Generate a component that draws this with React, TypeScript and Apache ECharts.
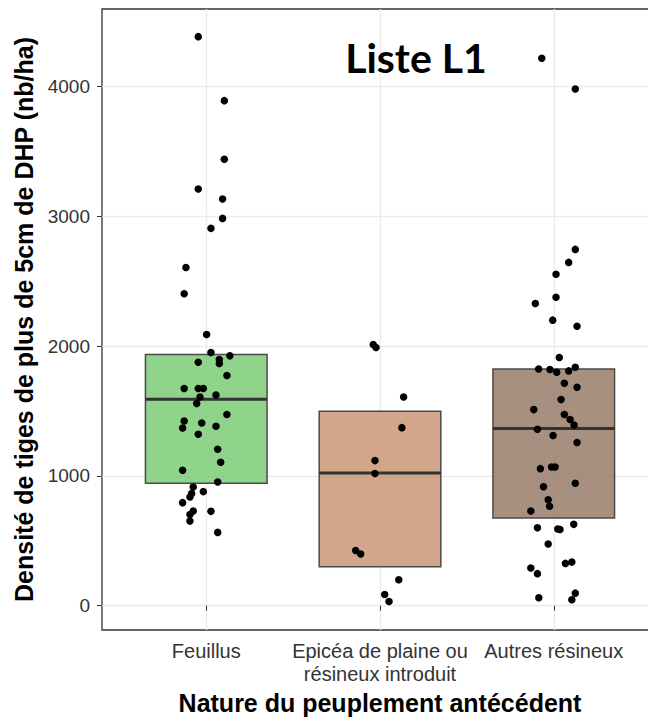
import React, { useEffect, useRef } from "react";
import * as echarts from "echarts";

// ---------- data ----------
const categories = ["Feuillus", "Epicéa de plaine ou\nrésineux introduit", "Autres résineux"];
const yTicks = [0, 1000, 2000, 3000, 4000];

// box statistics: [Q1, median, Q3]
const boxQ1 = [943, 301, 675];
const boxMedian = [1591, 1022, 1365];
const boxQ3 = [1935, 1498, 1824];

// jittered points (x position on the category scale, value)
const feuillusX = [0.954, 1.104, 1.104, 0.954, 1.094, 1.094, 1.027, 0.883, 0.873, 1.002, 1.027, 1.136, 1.075, 1.075, 0.954, 1.119, 0.873, 0.954, 0.983, 1.056, 0.964, 0.945, 1.119, 0.873, 0.864, 0.974, 1.056, 0.954, 1.066, 1.083, 0.864, 1.066, 0.925, 0.983, 0.916, 0.906, 0.864, 0.925, 1.027, 0.906, 0.906, 1.066];
const feuillusY = [4384, 3891, 3439, 3210, 3133, 2984, 2907, 2606, 2403, 2089, 1951, 1925, 1897, 1866, 1876, 1773, 1673, 1673, 1673, 1624, 1608, 1557, 1473, 1423, 1369, 1408, 1382, 1321, 1205, 1105, 1043, 953, 914, 879, 864, 837, 794, 729, 727, 702, 652, 565];

const epiceaX = [1.961, 1.977, 2.136, 2.126, 1.971, 1.971, 1.86, 1.889, 2.108, 2.027, 2.052];
const epiceaY = [2012, 1989, 1608, 1372, 1118, 1018, 426, 398, 200, 87, 33];

const autresX = [2.931, 3.124, 3.124, 3.086, 3.013, 3.013, 2.894, 2.994, 3.134, 3.032, 2.913, 2.978, 3.017, 3.086, 3.124, 3.061, 3.134, 3.042, 2.885, 3.061, 3.094, 3.117, 2.906, 2.996, 3.134, 2.923, 2.987, 3.008, 3.124, 2.941, 2.968, 2.976, 2.868, 2.906, 3.023, 3.036, 3.115, 2.968, 2.868, 2.906, 3.067, 3.104, 2.914, 3.124, 3.104];
const autresY = [4217, 3981, 2745, 2645, 2554, 2377, 2328, 2200, 2153, 1912, 1824, 1820, 1799, 1809, 1837, 1714, 1683, 1588, 1511, 1473, 1434, 1392, 1359, 1311, 1257, 1056, 1069, 1069, 943, 917, 817, 766, 729, 601, 591, 587, 627, 475, 290, 247, 326, 336, 62, 97, 46];

// ---------- styles ----------
const boxFills = ["rgba(115,201,109,0.8)", "rgba(199,144,109,0.8)", "rgba(146,116,96,0.8)"];
const BOX_HALF_WIDTH = 0.35;

export default function App() {
  const ref = useRef<HTMLDivElement>(null);

  useEffect(() => {
    if (!ref.current) return;
    const chart = echarts.init(ref.current, undefined, { renderer: "svg" });

    const boxData = categories.map((_, i) => [i + 1, boxQ1[i], boxMedian[i], boxQ3[i]]);
    const points: number[][] = [];
    feuillusX.forEach((x, i) => points.push([x, feuillusY[i]]));
    epiceaX.forEach((x, i) => points.push([x, epiceaY[i]]));
    autresX.forEach((x, i) => points.push([x, autresY[i]]));

    const catValues = categories.map((_, i) => i + 1);

    chart.setOption({
      animation: false,
      grid: {
        left: 102,
        top: 9,
        width: 556,
        height: 621,
        show: true,
        borderColor: "#333",
        borderWidth: 1.3,
        backgroundColor: "#fff",
        outerBoundsMode: "none",
        containLabel: false,
      },
      xAxis: {
        type: "value",
        min: 0.4,
        max: 3.6,
        axisLine: { show: false },
        axisTick: {
          show: true,
          customValues: catValues,
          length: 5,
          lineStyle: { color: "#333", width: 1 },
        },
        axisLabel: {
          customValues: catValues,
          formatter: (v: number) => categories[Math.round(v) - 1] ?? "",
          fontFamily: "Liberation Sans",
          fontSize: 20,
          lineHeight: 23,
          color: "#333",
          margin: 9,
        },
        splitLine: { show: true, lineStyle: { color: "#ebebeb", width: 1.3 } },
        name: "Nature du peuplement antécédent",
        nameLocation: "middle",
        nameGap: 60,
        nameTextStyle: {
          fontFamily: "Liberation Sans",
          fontWeight: "bold",
          fontSize: 25,
          color: "#000",
        },
      },
      yAxis: {
        type: "value",
        min: -187,
        max: 4597,
        axisLine: { show: false },
        axisTick: {
          show: true,
          customValues: yTicks,
          length: 5,
          lineStyle: { color: "#333", width: 1 },
        },
        axisLabel: {
          customValues: yTicks,
          formatter: (v: number) => String(v),
          fontFamily: "Liberation Sans",
          fontSize: 19,
          color: "#333",
          margin: 12,
        },
        splitLine: { show: true, lineStyle: { color: "#ebebeb", width: 1.3 } },
        name: "Densité de tiges de plus de 5cm de DHP (nb/ha)",
        nameLocation: "middle",
        nameGap: 62,
        nameTextStyle: {
          fontFamily: "Liberation Sans",
          fontWeight: "bold",
          fontSize: 25,
          color: "#000",
        },
      },
      series: [
        {
          type: "custom",
          z: 2,
          data: boxData,
          encode: { x: 0, y: [1, 2, 3] },
          renderItem: (params: any, api: any) => {
            const x = api.value(0);
            const q1 = api.value(1);
            const med = api.value(2);
            const q3 = api.value(3);
            const tl = api.coord([x - BOX_HALF_WIDTH, q3]);
            const br = api.coord([x + BOX_HALF_WIDTH, q1]);
            const ml = api.coord([x - BOX_HALF_WIDTH, med]);
            const mr = api.coord([x + BOX_HALF_WIDTH, med]);
            return {
              type: "group",
              children: [
                {
                  type: "rect",
                  shape: { x: tl[0], y: tl[1], width: br[0] - tl[0], height: br[1] - tl[1] },
                  style: { fill: boxFills[params.dataIndex], stroke: "#4a4a4a", lineWidth: 1.5 },
                },
                {
                  type: "line",
                  shape: { x1: ml[0], y1: ml[1], x2: mr[0], y2: mr[1] },
                  style: { stroke: "#333", lineWidth: 3 },
                },
              ],
            };
          },
        },
        {
          type: "scatter",
          z: 3,
          data: points,
          symbol: "circle",
          symbolSize: 7.5,
          itemStyle: { color: "#000", opacity: 1 },
        },
      ],
      graphic: [
        {
          type: "text",
          x: 416,
          y: 57,
          z: 10,
          style: {
            text: "Liste L1",
            fontFamily: "Lato",
            fontWeight: "bold",
            fontSize: 41,
            fill: "#000",
            align: "center",
            verticalAlign: "middle",
          },
        },
      ],
    });

    return () => chart.dispose();
  }, []);

  return (
    <div
      ref={ref}
      style={{ position: "fixed", left: 0, top: 0, width: 648, height: 718, background: "#fff" }}
    />
  );
}
